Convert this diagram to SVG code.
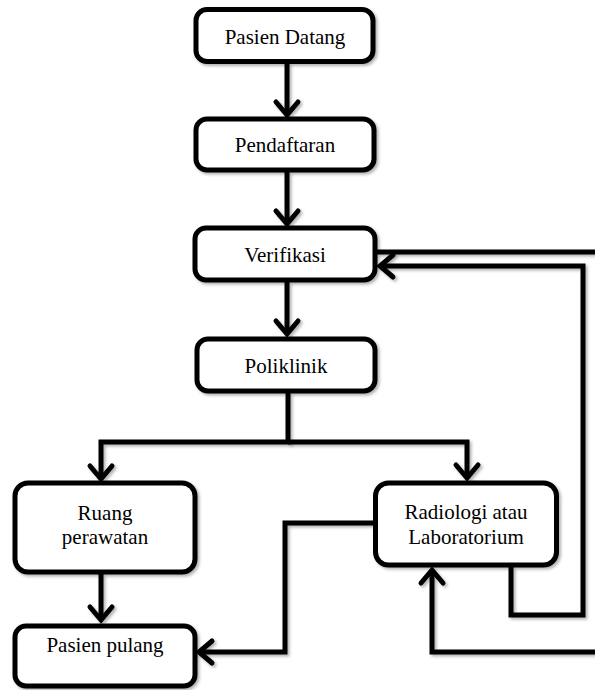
<svg xmlns="http://www.w3.org/2000/svg" width="595" height="690" viewBox="0 0 595 690">
<style>
.box{fill:#fff;stroke:#000;stroke-width:5;filter:url(#sh)}
.lbl{font-family:"Liberation Serif","Times New Roman",serif;font-size:21px;fill:#000;text-anchor:middle}
.con{fill:none;stroke:#000;stroke-width:5;stroke-linejoin:miter;filter:url(#sh)}
.arr{marker-end:url(#ah)}
</style>
<defs>
<filter id="sh" filterUnits="userSpaceOnUse" x="-20" y="-20" width="640" height="730">
<feDropShadow dx="2" dy="2" stdDeviation="1.5" flood-color="#000" flood-opacity="0.3"/>
</filter>
<marker id="ah" markerUnits="userSpaceOnUse" markerWidth="30" markerHeight="30" refX="0" refY="0" viewBox="-16 -15 20 30" orient="auto" overflow="visible">
<path d="M-13,-11 L0,0 L-13,11" fill="none" stroke="#000" stroke-width="5" stroke-linecap="round" stroke-linejoin="miter"/>
</marker>
</defs>
<g id="connectors">
<path class="con arr" d="M287,63 V115"/>
<path class="con arr" d="M287,172 V224"/>
<path class="con arr" d="M287,282 V334"/>
<path class="con arr" d="M288,393 V442 H101 V479"/>
<path class="con arr" d="M288,442 H467 V478"/>
<path class="con arr" d="M101,574 V620"/>
<path class="con arr" d="M374,523 H285 V652 H199"/>
<path class="con arr" d="M511,567 V615 H583 V266 H380"/>
<path class="con arr" d="M377,252 H600 V652 H432 V570"/>
</g>
<g id="pasien-datang">
<rect class="box" x="196" y="9.5" width="177" height="52" rx="11"/>
<text class="lbl" x="285" y="44">Pasien Datang</text>
</g>
<g id="pendaftaran">
<rect class="box" x="196" y="119" width="178" height="51" rx="11"/>
<text class="lbl" x="285" y="152">Pendaftaran</text>
</g>
<g id="verifikasi">
<rect class="box" x="195" y="228" width="180" height="52" rx="11"/>
<text class="lbl" x="285" y="262">Verifikasi</text>
</g>
<g id="poliklinik">
<rect class="box" x="197" y="339" width="178" height="52" rx="11"/>
<text class="lbl" x="286" y="373">Poliklinik</text>
</g>
<g id="ruang-perawatan">
<rect class="box" x="15" y="483" width="180" height="89" rx="13"/>
<text class="lbl" x="105" y="520">Ruang</text>
<text class="lbl" x="105" y="544">perawatan</text>
</g>
<g id="radiologi">
<rect class="box" x="375.5" y="483" width="181" height="82" rx="13"/>
<text class="lbl" x="466" y="519">Radiologi atau</text>
<text class="lbl" x="466" y="544">Laboratorium</text>
</g>
<g id="pasien-pulang">
<rect class="box" x="15" y="626" width="180" height="60" rx="11"/>
<text class="lbl" x="105" y="652">Pasien pulang</text>
</g>
</svg>
